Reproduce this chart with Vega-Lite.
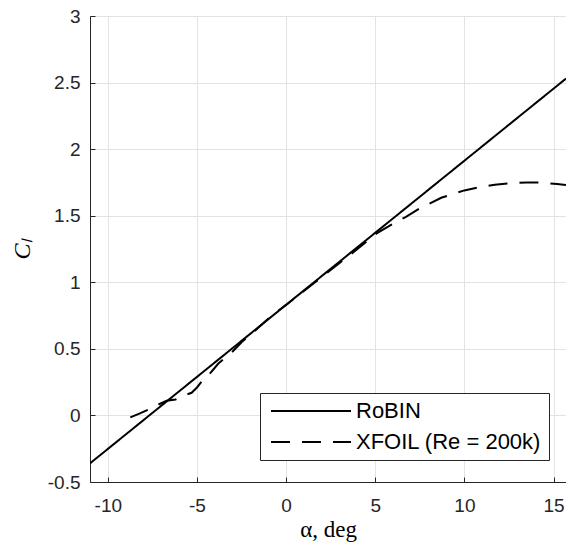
{
  "$schema": "https://vega.github.io/schema/vega-lite/v6.json",
  "width": 476,
  "height": 466,
  "autosize": {"type": "none"},
  "padding": {"left": 90, "top": 16, "right": 0, "bottom": 65},
  "background": "white",
  "config": {
    "view": {"stroke": null},
    "axis": {
      "domainColor": "#262626",
      "domainWidth": 1,
      "tickColor": "#262626",
      "tickSize": -5,
      "tickWidth": 1,
      "gridColor": "#e3e3e3",
      "gridWidth": 1,
      "labelColor": "#262626",
      "labelFont": "Liberation Sans",
      "labelFontSize": 19,
      "titleColor": "#000000",
      "titleFont": "Liberation Serif",
      "titleFontWeight": "normal"
    }
  },
  "datasets": {
    "curves": [
      {"series": "RoBIN", "alpha": -11, "cl": -0.36},
      {"series": "RoBIN", "alpha": 15.7, "cl": 2.53},
      {"series": "XFOIL (Re = 200k)", "alpha": -8.74, "cl": -0.015},
      {"series": "XFOIL (Re = 200k)", "alpha": -8.2, "cl": 0.015},
      {"series": "XFOIL (Re = 200k)", "alpha": -7.7, "cl": 0.045},
      {"series": "XFOIL (Re = 200k)", "alpha": -7.2, "cl": 0.08},
      {"series": "XFOIL (Re = 200k)", "alpha": -6.7, "cl": 0.11},
      {"series": "XFOIL (Re = 200k)", "alpha": -6.2, "cl": 0.12},
      {"series": "XFOIL (Re = 200k)", "alpha": -5.75, "cl": 0.148},
      {"series": "XFOIL (Re = 200k)", "alpha": -5.3, "cl": 0.17},
      {"series": "XFOIL (Re = 200k)", "alpha": -5.0, "cl": 0.21},
      {"series": "XFOIL (Re = 200k)", "alpha": -4.7, "cl": 0.26},
      {"series": "XFOIL (Re = 200k)", "alpha": -4.4, "cl": 0.295},
      {"series": "XFOIL (Re = 200k)", "alpha": -3.8, "cl": 0.39},
      {"series": "XFOIL (Re = 200k)", "alpha": -3.0, "cl": 0.48},
      {"series": "XFOIL (Re = 200k)", "alpha": -2.5, "cl": 0.55},
      {"series": "XFOIL (Re = 200k)", "alpha": -1.8, "cl": 0.63},
      {"series": "XFOIL (Re = 200k)", "alpha": -1.1, "cl": 0.715},
      {"series": "XFOIL (Re = 200k)", "alpha": -0.5, "cl": 0.78},
      {"series": "XFOIL (Re = 200k)", "alpha": 0.0, "cl": 0.83},
      {"series": "XFOIL (Re = 200k)", "alpha": 1.0, "cl": 0.935},
      {"series": "XFOIL (Re = 200k)", "alpha": 2.0, "cl": 1.04},
      {"series": "XFOIL (Re = 200k)", "alpha": 3.0, "cl": 1.145},
      {"series": "XFOIL (Re = 200k)", "alpha": 4.0, "cl": 1.25},
      {"series": "XFOIL (Re = 200k)", "alpha": 5.1, "cl": 1.37},
      {"series": "XFOIL (Re = 200k)", "alpha": 6.0, "cl": 1.44},
      {"series": "XFOIL (Re = 200k)", "alpha": 6.7, "cl": 1.49},
      {"series": "XFOIL (Re = 200k)", "alpha": 7.5, "cl": 1.555},
      {"series": "XFOIL (Re = 200k)", "alpha": 8.7, "cl": 1.635},
      {"series": "XFOIL (Re = 200k)", "alpha": 10.0, "cl": 1.69},
      {"series": "XFOIL (Re = 200k)", "alpha": 10.9, "cl": 1.715},
      {"series": "XFOIL (Re = 200k)", "alpha": 11.7, "cl": 1.733},
      {"series": "XFOIL (Re = 200k)", "alpha": 12.7, "cl": 1.745},
      {"series": "XFOIL (Re = 200k)", "alpha": 13.5, "cl": 1.75},
      {"series": "XFOIL (Re = 200k)", "alpha": 14.0, "cl": 1.75},
      {"series": "XFOIL (Re = 200k)", "alpha": 14.6, "cl": 1.745},
      {"series": "XFOIL (Re = 200k)", "alpha": 15.2, "cl": 1.738},
      {"series": "XFOIL (Re = 200k)", "alpha": 15.7, "cl": 1.73}
    ]
  },
  "data": {"name": "curves"},
  "mark": {"type": "line", "color": "#000000", "strokeWidth": 2, "clip": true},
  "encoding": {
    "x": {
      "field": "alpha",
      "type": "quantitative",
      "scale": {"domain": [-11, 15.7], "nice": false, "zero": false},
      "axis": {
        "values": [-10, -5, 0, 5, 10, 15],
        "labelExpr": "'' + datum.value",
        "labelPadding": 19.5,
        "title": "α, deg",
        "titleFontSize": 23,
        "titlePadding": 3
      }
    },
    "y": {
      "field": "cl",
      "type": "quantitative",
      "scale": {"domain": [-0.5, 3], "nice": false, "zero": false},
      "axis": {
        "values": [-0.5, 0, 0.5, 1, 1.5, 2, 2.5, 3],
        "labelExpr": "'' + datum.value",
        "labelPadding": 15,
        "title": "Cₗ",
        "titleFontSize": 24,
        "titleFontStyle": "italic",
        "titlePadding": 13
      }
    },
    "strokeDash": {
      "field": "series",
      "type": "nominal",
      "scale": {"domain": ["RoBIN", "XFOIL (Re = 200k)"], "range": [[1, 0], [19, 12]]},
      "legend": {
        "title": null,
        "orient": "none",
        "legendX": 170,
        "legendY": 377,
        "fillColor": "white",
        "strokeColor": "#262626",
        "padding": 7,
        "symbolType": "M-5,0H5",
        "symbolSize": 256,
        "symbolStrokeWidth": 2,
        "symbolStrokeColor": "#000000",
        "symbolOffset": 33,
        "labelOffset": 34,
        "labelLimit": 0,
        "labelFont": "Liberation Sans",
        "labelFontSize": 22,
        "labelColor": "#000000",
        "rowPadding": 9
      }
    }
  }
}
